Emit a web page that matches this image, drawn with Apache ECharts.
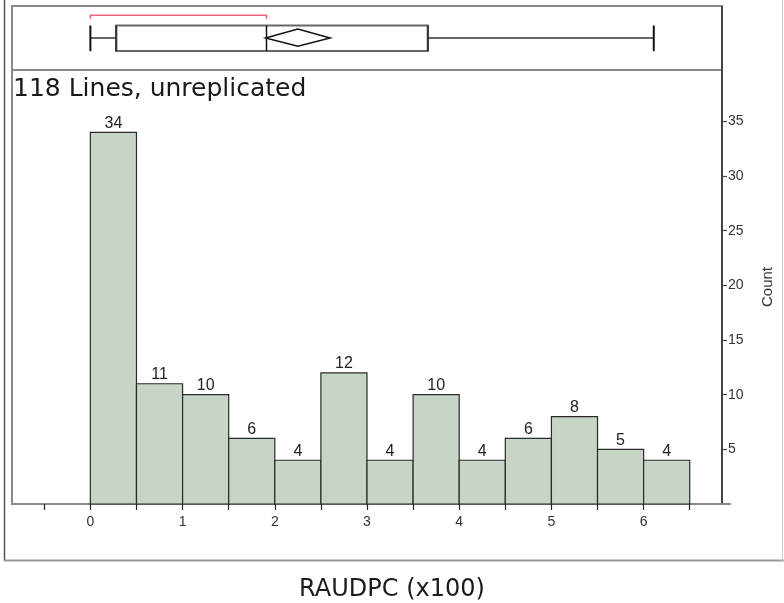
<!DOCTYPE html>
<html><head><meta charset="utf-8">
<script src="https://cdn.jsdelivr.net/npm/echarts@6/dist/echarts.min.js"></script>
<style>html,body{margin:0;padding:0;background:#fff}#c{width:784px;height:603px}</style>
</head><body><div id="c"></div>
<script>
// ---- data ----
const binStarts = [0, 0.5, 1, 1.5, 2, 2.5, 3, 3.5, 4, 4.5, 5, 5.5, 6];
const counts = [34, 11, 10, 6, 4, 12, 4, 10, 4, 6, 8, 5, 4];
const binWidth = 0.5;
const boxStats = [0, 0.28, 1.91, 3.66, 6.11];      // min, q1, median, q3, max
const meanDiamond = [1.90, 2.25, 2.60];            // lower CI, mean, upper CI
const shortestHalf = [0, 1.91];
const xTickValues = [-0.5, 0, 0.5, 1, 1.5, 2, 2.5, 3, 3.5, 4, 4.5, 5, 5.5, 6, 6.5];
const xLabelValues = [0, 1, 2, 3, 4, 5, 6];
const yTickValues = [5, 10, 15, 20, 25, 30, 35];
const titleText = '118 Lines, unreplicated';
const xTitle = 'RAUDPC (x100)';
const yTitle = 'Count';

const X_MIN = -0.85, X_MAX = 6.85, Y_MAX = 39.7;
const chart = echarts.init(document.getElementById('c'), null, {renderer: 'canvas'});

const histData = binStarts.map((s, i) => [s, counts[i]]);

function renderHist(params, api) {
  const s = api.value(0), c = api.value(1);
  const p0 = api.coord([s, c]);
  const p1 = api.coord([s + binWidth, 0]);
  return {
    type: 'group',
    children: [
      {type: 'rect', shape: {x: p0[0], y: p0[1], width: p1[0] - p0[0], height: p1[1] - p0[1]},
        style: {fill: '#c6d5c6', stroke: '#2a2a2a', lineWidth: 1.2}},
      {type: 'text', x: (p0[0] + p1[0]) / 2, y: p0[1] - 1,
        style: {text: String(c), fill: '#222', font: '16px "Liberation Sans", Arial, sans-serif',
          align: 'center', verticalAlign: 'bottom'}}
    ]
  };
}

function renderBox(params, api) {
  const mn = api.value(0), q1 = api.value(1), md = api.value(2), q3 = api.value(3), mx = api.value(4);
  const c = (x, y) => api.coord([x, y]);
  const yMid = 0.5, yTop = 0.695, yBot = 0.295;
  const grey = {stroke: '#666', lineWidth: 2, fill: null};
  const black = {stroke: '#111', lineWidth: 2, fill: null};
  const line = (a, b, st) => ({type: 'line', shape: {x1: a[0], y1: a[1], x2: b[0], y2: b[1]}, style: st});
  const pTL = c(q1, yTop), pBR = c(q3, yBot);
  return {
    type: 'group',
    children: [
      line(c(mn, yMid), c(q1, yMid), grey),
      line(c(q3, yMid), c(mx, yMid), grey),
      line(c(mn, yTop), c(mn, yBot), black),
      line(c(mx, yTop), c(mx, yBot), black),
      {type: 'rect', shape: {x: pTL[0], y: pTL[1], width: pBR[0] - pTL[0], height: pBR[1] - pTL[1]}, style: grey},
      line(c(q1, yTop), c(q1, yBot), {stroke: '#333', lineWidth: 2}),
      line(c(q3, yTop), c(q3, yBot), {stroke: '#333', lineWidth: 2}),
      line(c(md, yTop), c(md, yBot), {stroke: '#111', lineWidth: 1.5})
    ]
  };
}

function renderDiamond(params, api) {
  const lo = api.value(0), m = api.value(1), hi = api.value(2);
  const l = api.coord([lo, 0.5]), t = api.coord([m, 0.64]), r = api.coord([hi, 0.5]), b = api.coord([m, 0.37]);
  return {type: 'polygon', shape: {points: [l, t, r, b]}, style: {fill: 'none', stroke: '#111', lineWidth: 1.5}};
}

function renderBracket(params, api) {
  const a = api.value(0), b = api.value(1);
  const yTop = 0.855, yEnd = 0.80;
  const p1 = api.coord([a, yEnd]), p2 = api.coord([a, yTop]), p3 = api.coord([b, yTop]), p4 = api.coord([b, yEnd]);
  return {type: 'polyline', shape: {points: [p1, p2, p3, p4]}, style: {fill: 'none', stroke: '#f2607a', lineWidth: 1.6}};
}

const option = {
  animation: false,
  backgroundColor: '#fff',
  title: [
    {text: titleText, left: 8, top: 72,
      textStyle: {fontFamily: '"DejaVu Sans", sans-serif', fontSize: 25, fontWeight: 'normal', color: '#1a1a1a'}},
    {text: xTitle, left: 'center', top: 573,
      textStyle: {fontFamily: '"DejaVu Sans", sans-serif', fontSize: 24, fontWeight: 'normal', color: '#1a1a1a'}}
  ],
  grid: [
    {left: 12, right: 62, top: 6, height: 64, show: true, borderColor: '#8a8a8a', borderWidth: 2, backgroundColor: 'transparent'},
    {left: 12, right: 62, top: 70, bottom: 99, show: true, borderColor: '#8a8a8a', borderWidth: 2, backgroundColor: 'transparent'}
  ],
  xAxis: [
    {gridIndex: 1, type: 'value', min: X_MIN, max: X_MAX,
      axisLine: {show: true, onZero: false, lineStyle: {color: '#8a8a8a', width: 2}},
      axisTick: {show: true, length: 6, customValues: xTickValues, lineStyle: {color: '#222', width: 1.2}},
      axisLabel: {show: true, customValues: xLabelValues, margin: 11, color: '#333',
        fontFamily: '"Liberation Sans", Arial, sans-serif', fontSize: 14},
      splitLine: {show: false}},
    {gridIndex: 0, type: 'value', min: X_MIN, max: X_MAX, show: false}
  ],
  yAxis: [
    {gridIndex: 1, type: 'value', position: 'right', min: 0, max: Y_MAX,
      name: yTitle, nameLocation: 'middle', nameRotate: 90, nameGap: 38,
      nameTextStyle: {fontFamily: '"Liberation Sans", Arial, sans-serif', fontSize: 15, color: '#333'},
      axisLine: {show: true, onZero: false, lineStyle: {color: '#444', width: 2}},
      axisTick: {show: true, inside: false, length: 5, customValues: yTickValues, lineStyle: {color: '#444', width: 1.2}},
      axisLabel: {show: true, customValues: yTickValues, margin: 6, color: '#333',
        fontFamily: '"Liberation Sans", Arial, sans-serif', fontSize: 14},
      splitLine: {show: false}},
    {gridIndex: 0, type: 'value', min: 0, max: 1, show: false}
  ],
  graphic: [
    {type: 'line', shape: {x1: 4.5, y1: 0, x2: 4.5, y2: 561}, style: {stroke: '#555', lineWidth: 1.5}},
    {type: 'line', shape: {x1: 4, y1: 560.5, x2: 784, y2: 560.5}, style: {stroke: '#999', lineWidth: 2}},
    {type: 'line', shape: {x1: 782.5, y1: 0, x2: 782.5, y2: 561}, style: {stroke: '#ccc', lineWidth: 1}},
    {type: 'line', shape: {x1: 722, y1: 6, x2: 722, y2: 70}, style: {stroke: '#444', lineWidth: 2}, z: 10},
    {type: 'line', shape: {x1: 722, y1: 504, x2: 731, y2: 504}, style: {stroke: '#8a8a8a', lineWidth: 2}}
  ],
  series: [
    {type: 'custom', xAxisIndex: 0, yAxisIndex: 0, data: histData, encode: {x: 0, y: 1},
      renderItem: renderHist, clip: false, z: 3},
    {type: 'custom', xAxisIndex: 1, yAxisIndex: 1, data: [boxStats], encode: {x: [0, 1, 2, 3, 4]},
      renderItem: renderBox, z: 3},
    {type: 'custom', xAxisIndex: 1, yAxisIndex: 1, data: [meanDiamond], encode: {x: [0, 1, 2]},
      renderItem: renderDiamond, z: 4},
    {type: 'custom', xAxisIndex: 1, yAxisIndex: 1, data: [shortestHalf], encode: {x: [0, 1]},
      renderItem: renderBracket, z: 4}
  ]
};
chart.setOption(option);
</script>
</body></html>
